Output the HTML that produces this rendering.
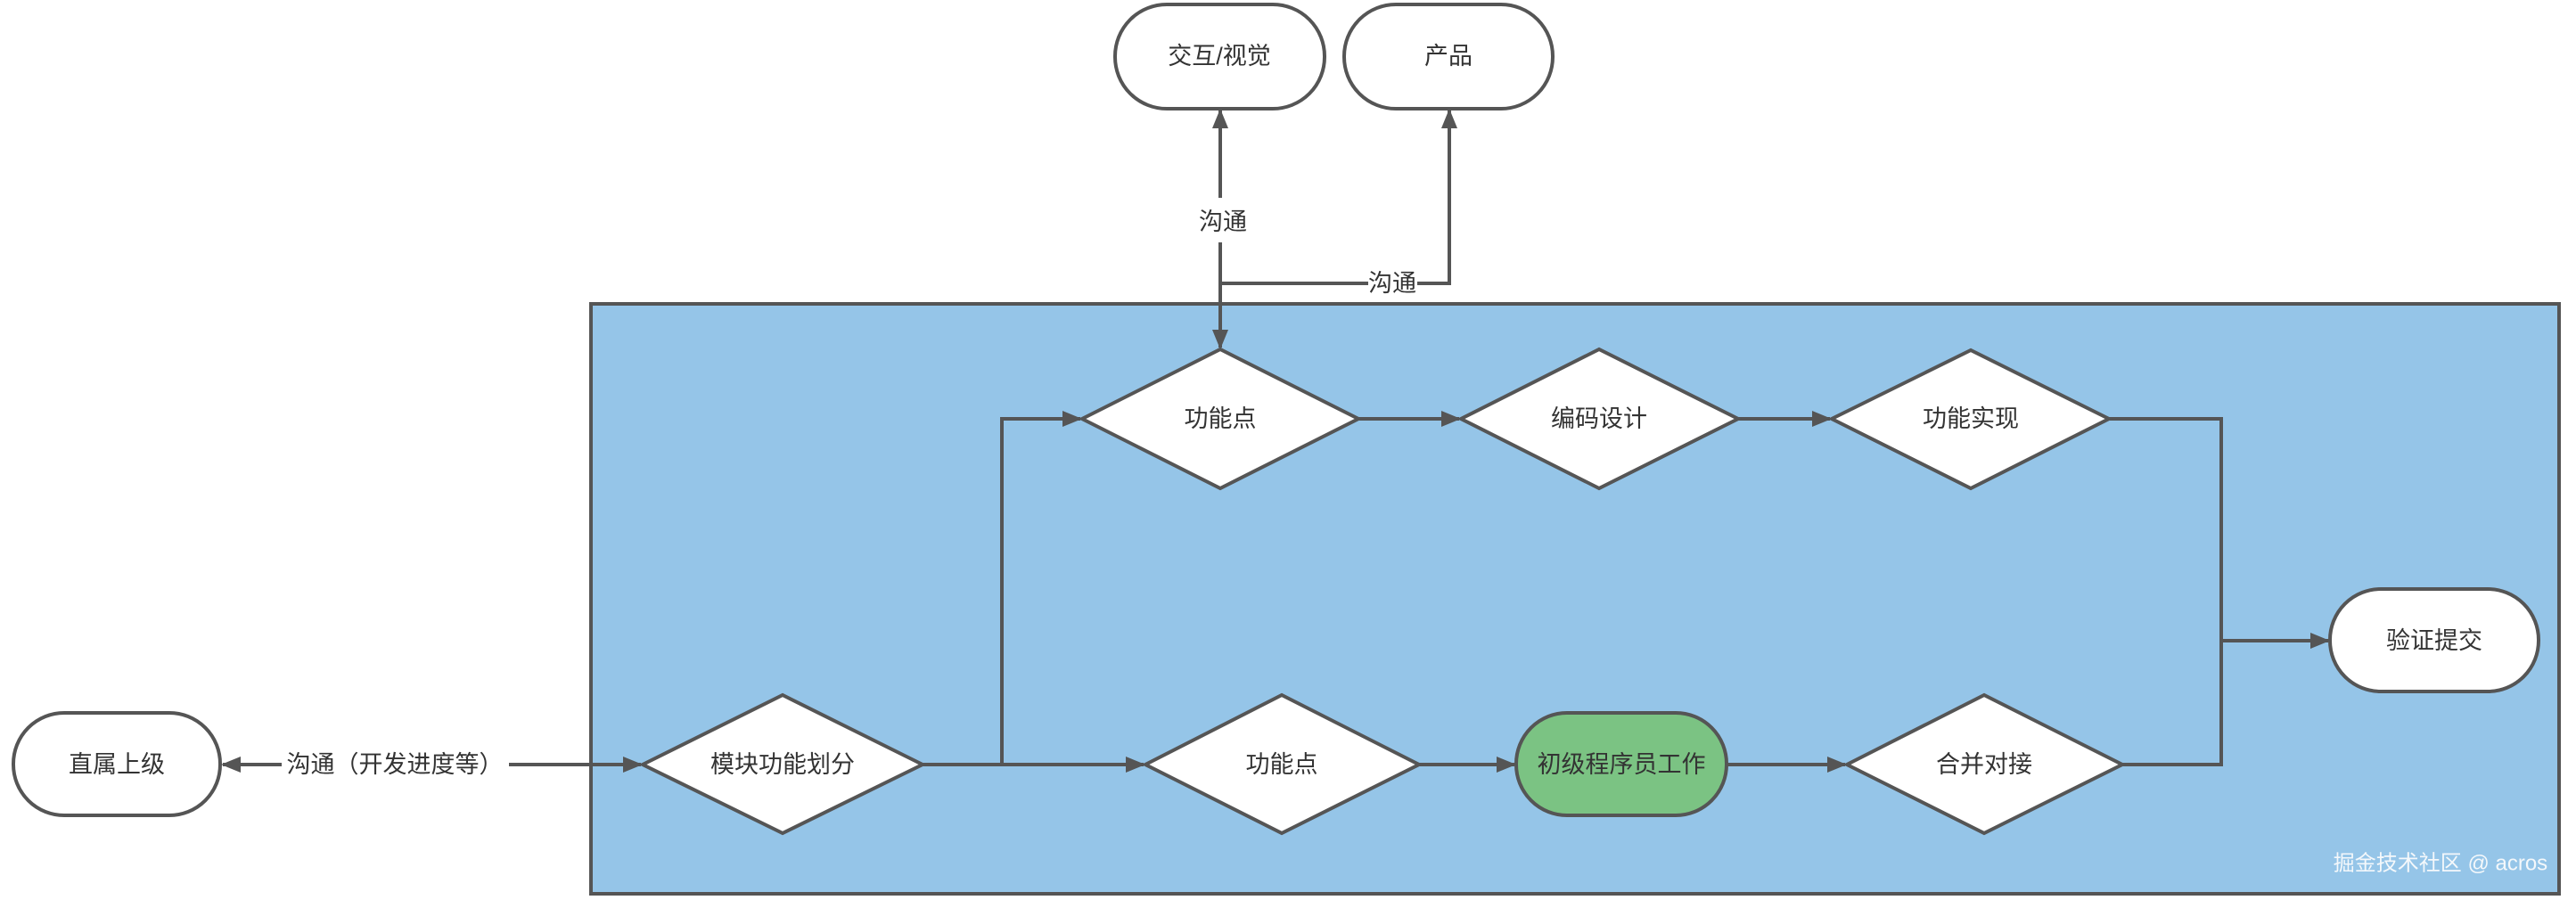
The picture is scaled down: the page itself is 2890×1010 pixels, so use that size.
<!DOCTYPE html>
<html><head><meta charset="utf-8"><style>
html,body{margin:0;padding:0;background:#fff;}
svg{display:block}
text{font-family:"Liberation Sans","Noto Sans CJK SC",sans-serif;font-size:27px;fill:#333;text-anchor:middle;dominant-baseline:central}
</style></head><body>
<svg width="2890" height="1010" viewBox="0 0 2890 1010" xmlns="http://www.w3.org/2000/svg">
<defs>
<marker id="a" markerWidth="22" markerHeight="18" refX="20" refY="9" orient="auto" markerUnits="userSpaceOnUse">
<path d="M0,0 L22,9 L0,18 Z" fill="#555"/></marker>
</defs>
<rect x="663" y="341" width="2208" height="662" fill="#95c5e8" stroke="#555" stroke-width="4"/>
<g fill="none" stroke="#555" stroke-width="4">
<!-- left comm -->
<line x1="316" y1="858" x2="250" y2="858" marker-end="url(#a)"/>
<line x1="571" y1="858" x2="719" y2="858" marker-end="url(#a)"/>
<!-- from module -->
<line x1="1035" y1="858" x2="1283" y2="858" marker-end="url(#a)"/>
<polyline points="1124,858 1124,470 1212,470" marker-end="url(#a)"/>
<line x1="1524" y1="470" x2="1637" y2="470" marker-end="url(#a)"/>
<line x1="1950" y1="470" x2="2053" y2="470" marker-end="url(#a)"/>
<polyline points="2366,470 2492,470 2492,858 2381,858"/>
<line x1="2492" y1="719" x2="2612" y2="719" marker-end="url(#a)"/>
<line x1="1592" y1="858" x2="1699" y2="858" marker-end="url(#a)"/>
<line x1="1937" y1="858" x2="2070" y2="858" marker-end="url(#a)"/>
<!-- top -->
<line x1="1369" y1="222" x2="1369" y2="124" marker-end="url(#a)"/>
<line x1="1369" y1="272" x2="1369" y2="390" marker-end="url(#a)"/>
<polyline points="1369,318 1535,318"/>
<polyline points="1590,318 1626,318 1626,124" marker-end="url(#a)"/>
</g>
<g stroke="#555" stroke-width="4">
<rect x="15" y="800" width="232" height="115" rx="57" fill="#fff"/>
<rect x="1251" y="5" width="235" height="117" rx="58" fill="#fff"/>
<rect x="1508" y="5" width="234" height="117" rx="58" fill="#fff"/>
<rect x="2614" y="661" width="234" height="115" rx="57" fill="#fff"/>
<rect x="1701" y="800" width="236" height="115" rx="57" fill="#7bc383"/>
<polygon points="721,858 878,780 1035,858 878,935" fill="#fff"/>
<polygon points="1214,470 1369,392 1524,470 1369,548" fill="#fff"/>
<polygon points="1639,470 1794,392 1950,470 1794,548" fill="#fff"/>
<polygon points="2055,470 2211,393 2366,470 2211,548" fill="#fff"/>
<polygon points="1285,858 1438,780 1592,858 1438,935" fill="#fff"/>
<polygon points="2072,858 2226,780 2381,858 2226,935" fill="#fff"/>
</g>
<text x="131" y="858">直属上级</text>
<text x="443" y="858">沟通（开发进度等）</text>
<text x="878" y="858">模块功能划分</text>
<text x="1368" y="63">交互/视觉</text>
<text x="1625" y="63">产品</text>
<text x="1372" y="249">沟通</text>
<text x="1562" y="318">沟通</text>
<text x="1369" y="470">功能点</text>
<text x="1794" y="470">编码设计</text>
<text x="2211" y="470">功能实现</text>
<text x="2731" y="719">验证提交</text>
<text x="1438" y="858">功能点</text>
<text x="1819" y="858">初级程序员工作</text>
<text x="2226" y="858">合并对接</text>
<text x="2738" y="969" style="font-size:24px;fill:#f4f8fb">掘金技术社区 @ acros</text>
</svg>
</body></html>
